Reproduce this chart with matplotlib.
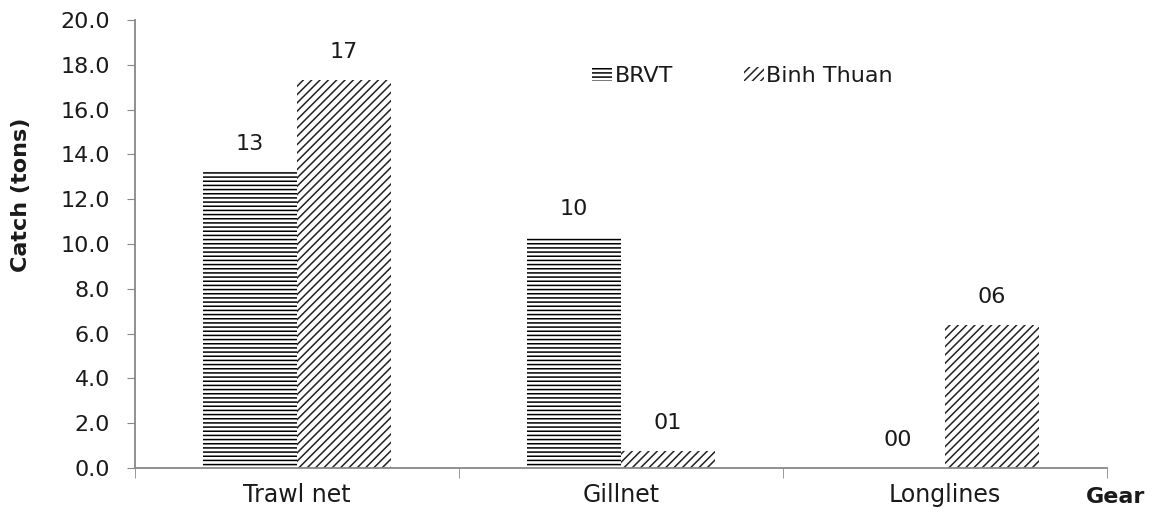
import matplotlib
matplotlib.use("Agg")
import matplotlib.pyplot as plt
import numpy as np

plt.rcParams['font.family'] = ['DejaVu Sans']
plt.rcParams['hatch.linewidth'] = 1.1

gears = ["Trawl net", "Gillnet", "Longlines"]
brvt = [13.2, 10.3, 0.0]
binh_thuan = [17.3, 0.75, 6.4]
brvt_labels = ["13", "10", "00"]
binh_thuan_labels = ["17", "01", "06"]
y_ticks = [0, 2, 4, 6, 8, 10, 12, 14, 16, 18, 20]

text_color = "#1a1a1a"

fig = plt.figure(figsize=(11.54, 5.15), dpi=100)
ax = fig.add_axes([0.117, 0.0913, 0.842, 0.87])

x = np.arange(len(gears))
w = 0.29
ax.bar(x - w / 2, brvt, w, color="white", edgecolor="black",
       hatch="----", linewidth=0, label="BRVT")
ax.bar(x + w / 2, binh_thuan, w, color="white", edgecolor="#222222",
       hatch="////", linewidth=0, label="Binh Thuan")

for xi, v, t in zip(x - w / 2, brvt, brvt_labels):
    ax.annotate(t, (xi, v), xytext=(0, 13), textcoords="offset points",
                ha="center", va="bottom", fontsize=16, color=text_color)
for xi, v, t in zip(x + w / 2, binh_thuan, binh_thuan_labels):
    ax.annotate(t, (xi, v), xytext=(0, 13), textcoords="offset points",
                ha="center", va="bottom", fontsize=16, color=text_color)

ax.set_xlim(-0.5, len(gears) - 0.5)
ax.set_ylim(0, 20)
ax.set_yticks(y_ticks)
ax.set_yticklabels([f"{t:.1f}" for t in y_ticks], fontsize=16, color=text_color)
ax.set_xticks(x)
ax.set_xticklabels(gears, fontsize=17, color=text_color)
ax.set_xticks(np.arange(len(gears) + 1) - 0.5, minor=True)
ax.tick_params(axis="x", which="major", length=0, pad=11)
ax.tick_params(axis="x", which="minor", length=7, color="#888888", direction="out")
ax.tick_params(axis="y", length=6, color="#888888", direction="out", pad=12)

for s in ("top", "right"):
    ax.spines[s].set_visible(False)
for s in ("left", "bottom"):
    ax.spines[s].set_color("#888888")
    ax.spines[s].set_linewidth(1.3)

ax.set_ylabel("Catch (tons)", fontsize=16, fontweight="bold", color=text_color)
ax.yaxis.set_label_coords(-0.107, 0.61)
ax.text(1.009, -0.065, "Gear", transform=ax.transAxes, fontsize=16,
        fontweight="bold", ha="center", va="center", color=text_color)

ax.legend(loc="center left", bbox_to_anchor=(0.45, 0.875), ncol=2, frameon=False,
          fontsize=16, handlelength=0.9, handleheight=0.6, handletextpad=0.1,
          columnspacing=3.2, labelcolor=text_color)

fig.savefig("out.png", dpi=100)
